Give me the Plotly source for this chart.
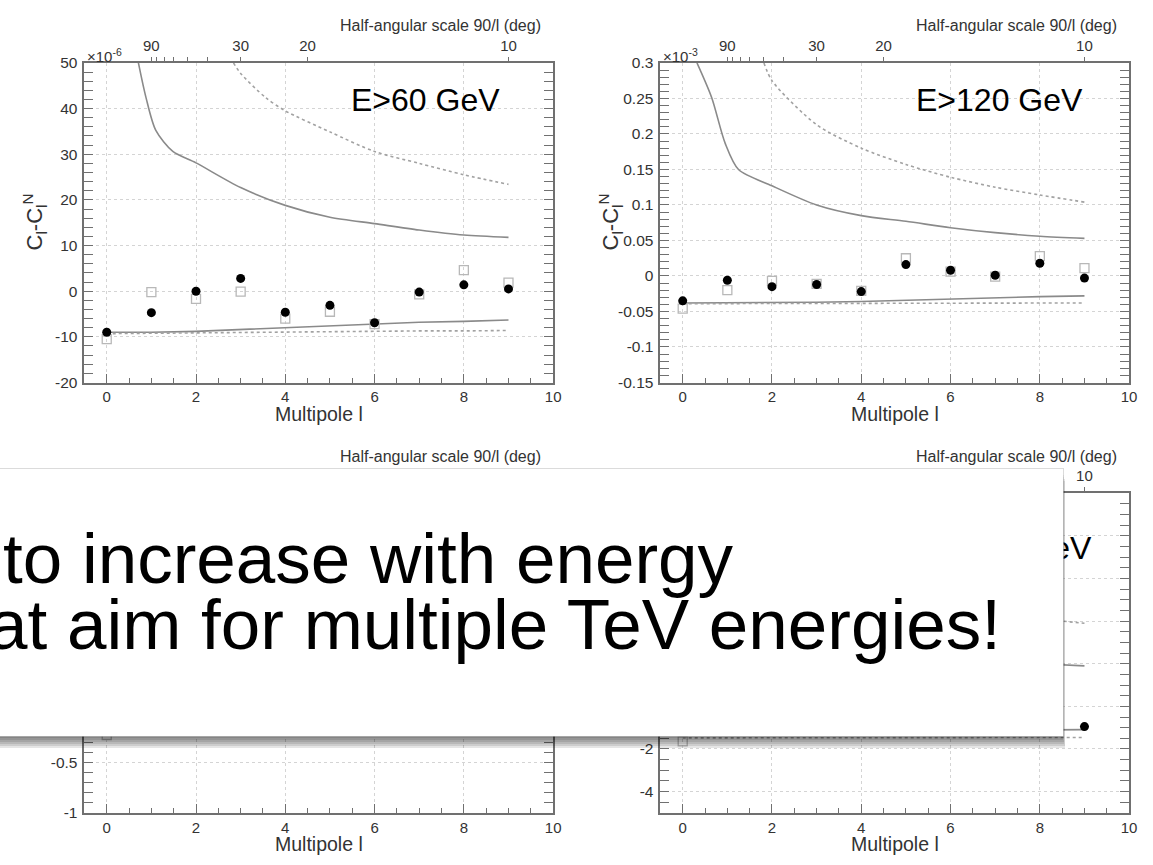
import plotly.graph_objects as go

W, H = 1153, 865
FONT = "Liberation Sans, Arial, Helvetica, sans-serif"


def fx(px):
    return px / W


def fy(py):
    return 1 - py / H


# ---------------- data ----------------
multipoles = [0, 1, 2, 3, 4, 5, 6, 7, 8, 9]

# E > 60 GeV  (units of 1e-6)
e60_data = [-9.0, -4.7, 0.0, 2.8, -4.6, -3.1, -6.9, -0.2, 1.4, 0.5]
e60_sim = [-10.5, -0.2, -1.7, -0.1, -6.0, -4.5, -7.2, -0.7, 4.6, 1.9]
e60_ul_l = [0.71, 0.88, 1.1, 1.48, 2.0, 3.0, 4.0, 5.0, 6.0, 7.0, 8.0, 9.0]
e60_ul = [50, 42.4, 35.2, 30.6, 28.1, 22.7, 18.8, 16.2, 14.8, 13.4, 12.3, 11.8]
e60_ul2_l = [2.84, 3.0, 3.56, 4.0, 5.0, 6.0, 7.0, 8.0, 9.0]
e60_ul2 = [50, 47.7, 42.4, 39.5, 34.9, 30.6, 28.0, 25.5, 23.4]
e60_noise = [-9.0, -9.0, -8.8, -8.4, -8.0, -7.6, -7.2, -6.8, -6.6, -6.3]
e60_noise2 = [-9.3, -9.2, -9.2, -9.1, -9.0, -8.9, -8.8, -8.7, -8.7, -8.6]

# E > 120 GeV  (units of 1e-3)
e120_data = [-0.035, -0.006, -0.015, -0.012, -0.022, 0.016, 0.008, 0.001, 0.018, -0.003]
e120_sim = [-0.046, -0.020, -0.007, -0.011, -0.021, 0.025, 0.006, -0.001, 0.028, 0.011]
e120_ul_l = [0.32, 0.65, 0.95, 1.25, 2.0, 3.0, 4.0, 5.0, 6.0, 7.0, 8.0, 9.0]
e120_ul = [0.30, 0.251, 0.187, 0.150, 0.127, 0.100, 0.085, 0.077, 0.068, 0.061, 0.056, 0.053]
e120_ul2_l = [1.82, 2.0, 3.0, 4.0, 5.0, 6.0, 7.0, 8.0, 9.0]
e120_ul2 = [0.30, 0.275, 0.213, 0.180, 0.157, 0.139, 0.125, 0.114, 0.104]
e120_noise = [-0.038, -0.038, -0.037, -0.037, -0.036, -0.034, -0.033, -0.031, -0.029, -0.028]
e120_noise2 = [-0.039, -0.039, -0.039, -0.039, -0.039, -0.039, -0.039, -0.038, -0.038, -0.038]

# E > 240 GeV
e240_sim_l = [0]
e240_sim = [-0.22]

# E > 480 GeV
e480_data_l = [9]
e480_data = [-0.95]
e480_sim_l = [0]
e480_sim = [-1.64]
e480_ul_l = [8, 9]
e480_ul = [2.0, 1.9]
e480_ul2 = [4.1, 3.9]
e480_noise = [-1.2, -1.2, -1.19, -1.18, -1.17, -1.16, -1.14, -1.12, -1.1, -1.09]
e480_noise2 = [-1.48, -1.48, -1.48, -1.47, -1.47, -1.47, -1.47, -1.46, -1.46, -1.46]

# top axis: half-angular scale 90/l in degrees
angle_ticks = [90, 80, 70, 60, 50, 40, 30, 20, 10]
angle_labels = ["90", "", "", "", "", "", "30", "20", "10"]

x_ticks = [0, 2, 4, 6, 8, 10]
y_ticks = [
    [-20, -10, 0, 10, 20, 30, 40, 50],
    [-0.15, -0.1, -0.05, 0, 0.05, 0.1, 0.15, 0.2, 0.25, 0.3],
    [-1, -0.5, 0, 0.5, 1, 1.5, 2],
    [-4, -2, 0, 2, 4, 6, 8, 10],
]
y_labels = [
    ["-20", "-10", "0", "10", "20", "30", "40", "50"],
    ["-0.15", "-0.1", "-0.05", "0", "0.05", "0.1", "0.15", "0.2", "0.25", "0.3"],
    ["-1", "-0.5", "0", "0.5", "1", "1.5", "2"],
    ["-4", "-2", "0", "2", "4", "6", "8", "10"],
]
y_ranges = [[-20, 50], [-0.15, 0.3], [-1, 2.2], [-5, 10]]
y_minor = [2, 0.01, 0.1, 0.5]
energy_labels = ["E>60 GeV", "E>120 GeV", "E>240 GeV", "E>480 GeV"]

# panel frames in pixels: (left, right, top, bottom)
frames = [(85, 557, 55, 381), (665, 1137, 55, 381), (85, 557, 494, 820), (665, 1137, 494, 820)]

AX_COL = "#707070"
TXT_COL = "#333333"
LINE_COL = "#8a8a8a"
DASH_COL = "#a2a2a2"
SQ_COL = "#b8b8b8"

fig = go.Figure()


def ax_names(i):
    return ("x" if i == 1 else f"x{i}"), ("y" if i == 1 else f"y{i}")


def line(i, xs, ys, dashed=False, spline=False):
    xa, ya = ax_names(i)
    fig.add_trace(go.Scatter(
        x=xs, y=ys, xaxis=xa, yaxis=ya, mode="lines",
        line=dict(color=DASH_COL if dashed else LINE_COL, width=1.6,
                  dash="dot" if dashed else "solid",
                  shape="spline" if spline else "linear", smoothing=0.8),
        showlegend=False, hoverinfo="skip"))


def points(i, xs, ys, filled):
    xa, ya = ax_names(i)
    if filled:
        marker = dict(symbol="circle", size=9, color="black")
    else:
        marker = dict(symbol="square-open", size=9, color=SQ_COL, line=dict(width=1.3, color=SQ_COL))
    fig.add_trace(go.Scatter(x=xs, y=ys, xaxis=xa, yaxis=ya, mode="markers",
                             marker=marker, showlegend=False, hoverinfo="skip"))


# panel 1: E>60 GeV
line(1, e60_ul_l, e60_ul, spline=True)
line(1, e60_ul2_l, e60_ul2, dashed=True, spline=True)
line(1, multipoles, e60_noise)
line(1, multipoles, e60_noise2, dashed=True)
points(1, multipoles, e60_sim, False)
points(1, multipoles, e60_data, True)

# panel 2: E>120 GeV
line(2, e120_ul_l, e120_ul, spline=True)
line(2, e120_ul2_l, e120_ul2, dashed=True, spline=True)
line(2, multipoles, e120_noise)
line(2, multipoles, e120_noise2, dashed=True)
points(2, multipoles, e120_sim, False)
points(2, multipoles, e120_data, True)

# panel 3: E>240 GeV
points(3, e240_sim_l, e240_sim, False)

# panel 4: E>480 GeV
line(4, e480_ul_l, e480_ul)
line(4, e480_ul_l, e480_ul2, dashed=True)
line(4, multipoles, e480_noise)
line(4, multipoles, e480_noise2, dashed=True)
points(4, e480_sim_l, e480_sim, False)
points(4, e480_data_l, e480_data, True)

layout = dict(
    width=W, height=H, autosize=False,
    margin=dict(l=0, r=0, t=0, b=0),
    paper_bgcolor="white", plot_bgcolor="white",
    font=dict(family=FONT, color=TXT_COL),
    showlegend=False,
)

annotations = []
for k, (l, r, t, b) in enumerate(frames):
    i = k + 1
    xa, ya = ax_names(i)
    xkey = "xaxis" if i == 1 else f"xaxis{i}"
    ykey = "yaxis" if i == 1 else f"yaxis{i}"
    layout[xkey] = dict(
        domain=[fx(l), fx(r)], range=[-0.5, 10], anchor=ya,
        tickmode="array", tickvals=x_ticks, ticktext=[str(v) for v in x_ticks],
        ticks="inside", ticklen=9, tickwidth=1.4, tickcolor=AX_COL,
        showline=True, linecolor=AX_COL, linewidth=1.7, mirror=True,
        showgrid=True, gridcolor="#d4d4d4", griddash="dot", gridwidth=1,
        zeroline=False, tickfont=dict(size=15, color=TXT_COL),
        minor=dict(tickmode="linear", tick0=0, dtick=0.5, ticks="inside", ticklen=5,
                   tickwidth=1.2, tickcolor=AX_COL, showgrid=False),
    )
    layout[ykey] = dict(
        domain=[fy(b), fy(t)], range=y_ranges[k], anchor=xa,
        tickmode="array", tickvals=y_ticks[k], ticktext=y_labels[k],
        ticks="inside", ticklen=9, tickwidth=1.4, tickcolor=AX_COL,
        showline=True, linecolor=AX_COL, linewidth=1.7, mirror="allticks",
        showgrid=True, gridcolor="#d4d4d4", griddash="dot", gridwidth=1,
        zeroline=False, tickfont=dict(size=15.5, color=TXT_COL), ticklabelstandoff=2,
        minor=dict(tickmode="linear", tick0=0, dtick=y_minor[k], ticks="inside", ticklen=5,
                   tickwidth=1.2, tickcolor=AX_COL, showgrid=False),
    )
    # top axis with the half-angular scale
    tkey = f"xaxis{i + 4}"
    layout[tkey] = dict(
        overlaying=xa, anchor=ya, side="top", range=[-0.5, 10],
        tickmode="array", tickvals=[90 / a for a in angle_ticks], ticktext=angle_labels,
        ticks="outside", ticklen=5, tickwidth=1.2, tickcolor=AX_COL,
        showline=False, showgrid=False, zeroline=False,
        tickfont=dict(size=15, color=TXT_COL),
    )
    fig.add_trace(go.Scatter(x=[], y=[], xaxis=f"x{i + 4}", yaxis=ya, showlegend=False))

    cx = (l + r) / 2
    annotations += [
        dict(text="Half-angular scale 90/l (deg)", xref="paper", yref="paper",
             x=fx(r - 10), y=fy(t - 38), xanchor="right", yanchor="middle",
             showarrow=False, font=dict(size=16, color=TXT_COL)),
        dict(text="Multipole l", xref="paper", yref="paper",
             x=fx(cx), y=fy(b + 32), xanchor="center", yanchor="middle",
             showarrow=False, font=dict(size=19.5, color=TXT_COL)),
        dict(text="C<sub>l</sub>-C<sub>l</sub><sup>N</sup>", xref="paper", yref="paper",
             x=fx(l - 50), y=fy((t + b) / 2 - 1), xanchor="center", yanchor="middle",
             textangle=-90, showarrow=False, font=dict(size=22, color=TXT_COL)),
    ]

annotations += [
    dict(text="×10<sup>-6</sup>", xref="paper", yref="paper", x=fx(86), y=fy(47),
         xanchor="left", yanchor="middle", showarrow=False, font=dict(size=15, color=TXT_COL)),
    dict(text="×10<sup>-3</sup>", xref="paper", yref="paper", x=fx(666), y=fy(47),
         xanchor="left", yanchor="middle", showarrow=False, font=dict(size=15, color=TXT_COL)),
]

# energy thresholds written over each panel
label_pos = [(506, 93), (1093, 93), (506, 550), (1102, 550)]
for txt, (px, py) in zip(energy_labels, label_pos):
    annotations.append(dict(text=txt, xref="paper", yref="paper", x=fx(px), y=fy(py),
                            xanchor="right", yanchor="middle", showarrow=False,
                            font=dict(size=32, color="black", family=FONT)))

# callout box with soft drop shadow
box_l, box_r, box_t, box_b = -40, 1062, 469, 736
for s in range(1, 7):
    annotations.append(dict(text=" ", xref="paper", yref="paper",
                            x=fx(box_l + 0.5 * s), y=fy(box_t + 2 * s),
                            xanchor="left", yanchor="top",
                            width=box_r - box_l, height=box_b - box_t,
                            bgcolor="rgba(0,0,0,0.10)", borderpad=0, borderwidth=0,
                            showarrow=False))
annotations.append(dict(text=" ", xref="paper", yref="paper",
                        x=fx(box_l), y=fy(box_t - 1), xanchor="left", yanchor="top",
                        width=box_r - box_l, height=box_b - box_t,
                        bgcolor="white", bordercolor="rgba(0,0,0,0.14)", borderwidth=1,
                        borderpad=0, showarrow=False))
annotations += [
    dict(text="to increase with energy", xref="paper", yref="paper",
         x=fx(741), y=fy(561), xanchor="right", yanchor="middle", showarrow=False,
         font=dict(size=71, color="black", family=FONT)),
    dict(text="at aim for multiple TeV energies!", xref="paper", yref="paper",
         x=fx(1010), y=fy(628), xanchor="right", yanchor="middle", showarrow=False,
         font=dict(size=71, color="black", family=FONT)),
]

layout["annotations"] = annotations
fig.update_layout(**layout)
fig.write_html("out.html")
